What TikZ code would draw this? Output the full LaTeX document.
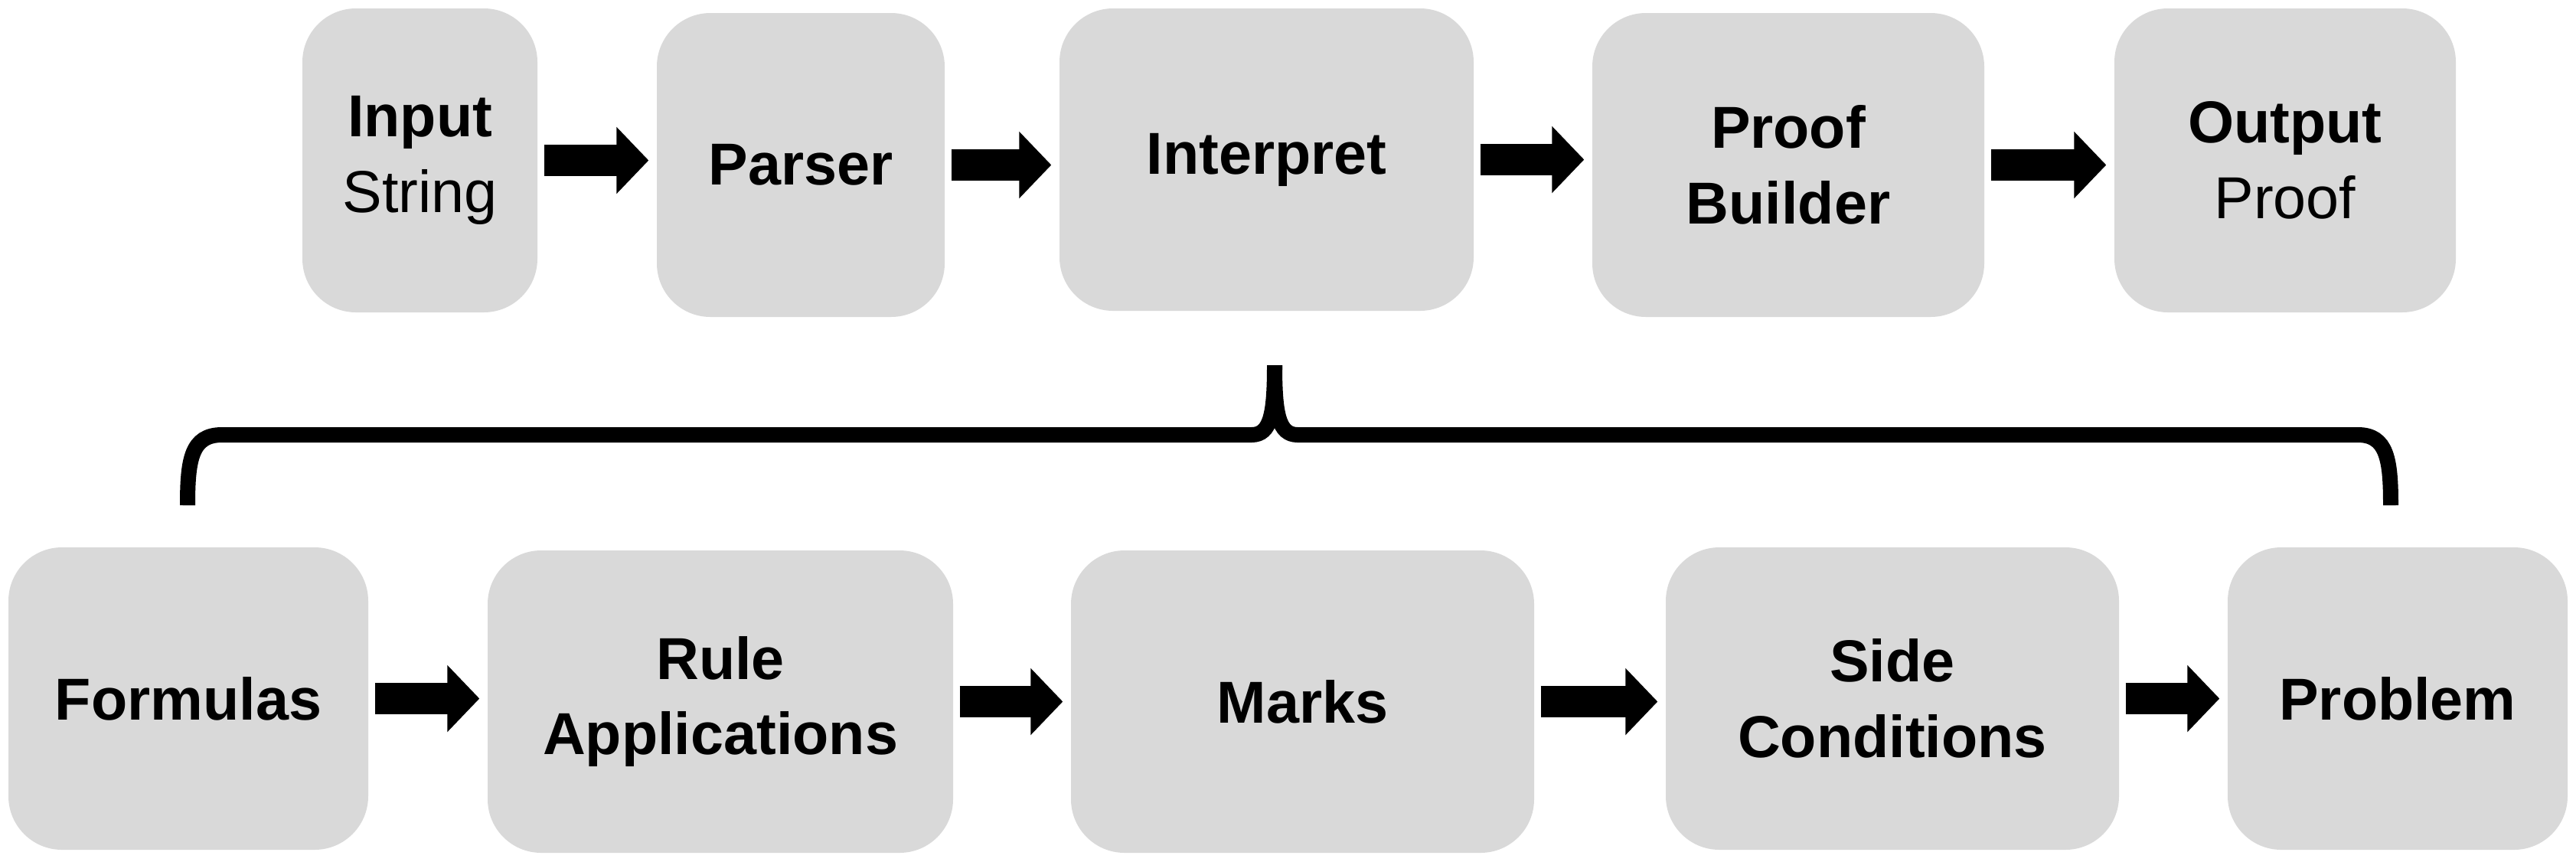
\documentclass[tikz,border=0pt]{standalone}
\usepackage{fontspec}
\setmainfont{Liberation Sans}
\usetikzlibrary{arrows.meta}
\definecolor{boxgray}{HTML}{D9D9D9}
\begin{document}
\begin{tikzpicture}[
  stage/.style={fill=boxgray, rounded corners=0.7cm, inner sep=0pt, align=center,
    font=\fontsize{22}{28}\selectfont},
  flow/.style={line width=0.41cm, -{Triangle[width=0.85cm,length=0.42cm]},
    shorten <=0.08cm, shorten >=0.1cm},
  brace/.style={line width=0.2cm}]
\useasboundingbox (0,0) rectangle (33.65,-11.25);
% top row
\node[stage, minimum width=3.07cm, minimum height=3.97cm] (input) at (5.485,-2.095) {\textbf{Input}\\String};
\node[stage, minimum width=3.76cm, minimum height=3.97cm] (parser) at (10.46,-2.155) {\textbf{Parser}};
\node[stage, minimum width=5.41cm, minimum height=3.95cm] (interp) at (16.545,-2.085) {\textbf{Interpret}};
\node[stage, minimum width=5.12cm, minimum height=3.97cm] (builder) at (23.36,-2.155) {\textbf{Proof}\\\textbf{Builder}};
\node[stage, minimum width=4.46cm, minimum height=3.97cm] (output) at (29.85,-2.095) {\textbf{Output}\\Proof};
\draw[flow] (input.east) -- (input.east -| parser.west);
\draw[flow] (parser.east) -- (parser.east -| interp.west);
\draw[flow] (interp.east) -- (interp.east -| builder.west);
\draw[flow] (builder.east) -- (builder.east -| output.west);
% bottom row
\node[stage, minimum width=4.70cm, minimum height=3.95cm] (formulas) at (2.46,-9.125) {\textbf{Formulas}};
\node[stage, minimum width=6.08cm, minimum height=3.95cm] (rules) at (9.41,-9.165) {\textbf{Rule}\\\textbf{Applications}};
\node[stage, minimum width=6.05cm, minimum height=3.95cm] (marks) at (17.015,-9.165) {\textbf{Marks}};
\node[stage, minimum width=5.92cm, minimum height=3.95cm] (side) at (24.72,-9.125) {\textbf{Side}\\\textbf{Conditions}};
\node[stage, minimum width=4.44cm, minimum height=3.95cm] (problem) at (31.32,-9.125) {\textbf{Problem}};
\draw[flow] (formulas.east) -- (formulas.east -| rules.west);
\draw[flow] (rules.east) -- (rules.east -| marks.west);
\draw[flow] (marks.east) -- (marks.east -| side.west);
\draw[flow] (side.east) -- (side.east -| problem.west);
% brace under Interpret
\coordinate (tip) at (16.65,-4.77);
\coordinate (bl) at (2.45,-6.60);
\coordinate (br) at (31.23,-6.60);
\draw[brace] (bl) .. controls (2.45,-6.0) and (2.5,-5.68) .. (2.9,-5.68) -- (16.35,-5.68)
  .. controls (16.6,-5.68) and (16.65,-5.4) .. (tip);
\draw[brace] (tip) .. controls (16.65,-5.4) and (16.7,-5.68) .. (16.95,-5.68) -- (30.8,-5.68)
  .. controls (31.18,-5.68) and (31.23,-6.0) .. (br);
\end{tikzpicture}
\end{document}
